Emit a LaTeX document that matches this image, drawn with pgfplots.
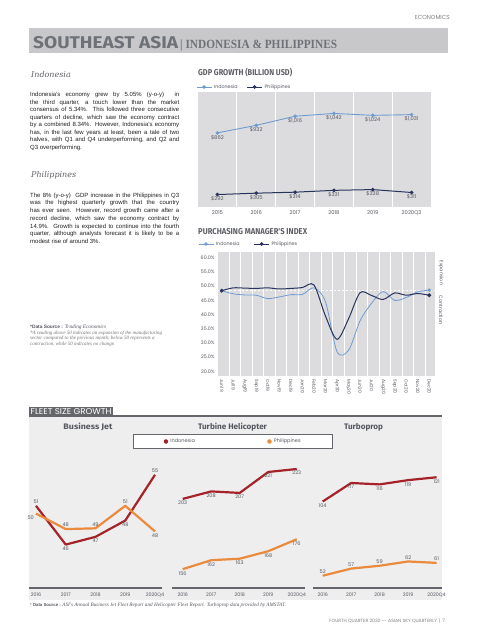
\documentclass[border=0pt]{standalone}
\usepackage{fontspec}
\setmainfont{Liberation Sans}
\newfontfamily\pop{Poppins}
\newfontfamily\dvs{DejaVu Serif}
\newfontfamily\lser{Liberation Serif}
\newfontfamily\fira{Fira Sans}
\usepackage{graphicx}
\usepackage{pgfplots}
\pgfplotsset{compat=1.18}
\pgfplotsset{/pgf/number format/assume math mode=true}

\definecolor{bannerbg}{RGB}{200,200,203}
\definecolor{titlegray}{RGB}{110,114,120}
\definecolor{headgray}{RGB}{95,97,102}
\definecolor{bodytxt}{RGB}{35,31,32}
\definecolor{chartbg}{RGB}{220,220,223}
\definecolor{indoblue}{RGB}{110,155,210}
\definecolor{phnavy}{RGB}{40,52,92}
\definecolor{lblgray}{RGB}{85,88,95}
\definecolor{fleetbg}{RGB}{238,238,239}
\definecolor{fleetbar}{RGB}{100,102,108}
\definecolor{indored}{RGB}{165,35,40}
\definecolor{phorange}{RGB}{234,138,60}

\pgfplotsset{
  fleet/.style={
    scale only axis, height=138pt, anchor=north west,
    axis x line=bottom, axis y line=none,
    axis line style={-, draw=fleetbar, line width=1.1pt},
    xtick={0,...,4}, xticklabels={2016,2017,2018,2019,2020Q4},
    major tick length=0pt, ytick=\empty,
    tick label style={font=\pop\fontsize{4.8}{5}\selectfont, text=lblgray},
    xticklabel style={yshift=-1pt},
    clip=false,
  },
  indoline/.style={indored, line width=2.2pt, line join=round, no marks},
  philline/.style={phorange, line width=2.2pt, line join=round, no marks},
  lbl/.style={draw=none, forget plot, no marks, nodes near coords, point meta=explicit symbolic,
    every node near coord/.append style={anchor=#1, font=\pop\fontsize{5}{5}\selectfont, text=lblgray, inner sep=2pt}},
  dotlegend/.style={legend image code/.code={\fill[##1] (0pt,0pt) circle (1.4pt);}},
  linelegend/.style={legend image code/.code={\draw[##1, mark=none] (0pt,0pt) -- (15pt,0pt); \fill[##1] (7.5pt,0pt) circle (1.3pt);}},
}

\begin{document}
\begin{tikzpicture}
\path[use as bounding box] (0,0) rectangle (480pt,-640pt);
\fill[white] (0,0) rectangle (480pt,-640pt);

% header
\node[anchor=east, inner sep=0pt, font=\pop\fontsize{5.8}{6}\selectfont, text=black!50] at (450pt,-17pt) {ECONOMICS};
\fill[bannerbg] (29pt,-28.3pt) rectangle (448pt,-53.3pt);
\node[anchor=base west, inner sep=0pt, text=titlegray] at (33pt,-48.3pt)
  {\resizebox{145pt}{\height}{\fira\bfseries\fontsize{17}{17}\selectfont SOUTHEAST ASIA}};
\node[anchor=base west, inner sep=0pt, text=titlegray] at (180pt,-48.3pt)
  {\resizebox{157pt}{\height}{\lser\bfseries\fontsize{12.5}{12.5}\selectfont | INDONESIA \& PHILIPPINES}};

% left column
\node[anchor=west, inner sep=0pt, text=headgray, font=\dvs\itshape\fontsize{8}{9}\selectfont] at (31pt,-75pt) {Indonesia};
\node[anchor=base west, inner sep=0pt, text=bodytxt] at (30pt,-96.5pt) {\parbox[t]{149pt}{\fontsize{6}{7.5}\selectfont
Indonesia's economy grew by 5.05\% (y-o-y)\ \ in\linebreak
the third quarter, a touch lower than the market\linebreak
consensus of 5.34\%. This followed three consecutive\linebreak
quarters of decline, which saw the economy contract\linebreak
by a combined 8.34\%. However, Indonesia's economy\linebreak
has, in the last few years at least, been a tale of two\linebreak
halves, with Q1 and Q4 underperforming, and Q2 and\linebreak
Q3 overperforming.}};

\node[anchor=west, inner sep=0pt, text=headgray, font=\dvs\itshape\fontsize{8}{9}\selectfont] at (31pt,-175pt) {Philippines};
\node[anchor=base west, inner sep=0pt, text=bodytxt] at (30pt,-197.2pt) {\parbox[t]{149pt}{\fontsize{6}{7.75}\selectfont
The 8\% (y-o-y)\ \ GDP increase in the Philippines in Q3\linebreak
was the highest quarterly growth that the country\linebreak
has ever seen. However, record growth came after a\linebreak
record decline, which saw the economy contract by\linebreak
14.9\%. Growth is expected to continue into the fourth\linebreak
quarter, although analysts forecast it is likely to be a\linebreak
modest rise of around 3\%.}};

\node[anchor=base west, inner sep=0pt, text=lblgray] at (30pt,-328pt)
  {\fontsize{4.8}{5}\selectfont\bfseries *Data Source : {\lser\mdseries\itshape\fontsize{5.3}{5}\selectfont Trading Economics}};
\node[anchor=base west, inner sep=0pt, text=black!55] at (30pt,-340pt)
  {\lser\itshape\fontsize{5}{6}\selectfont\begin{tabular}{@{}l@{}}
  *A reading above 50 indicates an expansion of the manufacturing\\[-0.6pt]
  sector compared to the previous month; below 50 represents a\\[-0.6pt]
  contraction, while 50 indicates no change.\end{tabular}};

% GDP chart
\node[anchor=west, inner sep=0pt, text=headgray] at (198pt,-73pt)
  {\resizebox{94pt}{\height}{\fira\bfseries\fontsize{8.5}{9}\selectfont GDP GROWTH (BILLION USD)}};
\begin{axis}[
  at={(198pt,-92pt)}, anchor=north west, scale only axis, width=233pt, height=115pt,
  xmin=-0.5, xmax=5.5, ymin=177, ymax=1240,
  axis background/.style={fill=chartbg},
  axis line style={draw=none},
  xtick={0,...,5}, xticklabels={2015,2016,2017,2018,2019,2020Q3},
  minor xtick={0.5,1.5,2.5,3.5,4.5},
  xminorgrids, minor grid style={white, line width=1.2pt},
  ytick=\empty, major tick length=0pt, minor tick length=0pt,
  tick label style={font=\pop\fontsize{5.2}{6}\selectfont, text=lblgray},
  xticklabel style={yshift=-0.5pt},
  linelegend,
  legend style={at={(0,1)}, anchor=west, yshift=5pt, xshift=-2pt, draw=none, fill=none,
    font=\pop\fontsize{4.8}{5}\selectfont, text=lblgray, inner sep=0pt},
  legend columns=2, legend cell align=left,
  legend style={/tikz/every even column/.append style={column sep=7pt}},
  nodes near coords={\$\pgfmathprintnumber[fixed,precision=0,1000 sep={,}]{\pgfplotspointmeta}},
  every node near coord/.append style={anchor=north, font=\pop\fontsize{5.2}{6}\selectfont, text=lblgray, inner sep=1.6pt},
]
\addplot[indoblue, line width=0.9pt, mark=*, mark size=1.3pt, point meta=y]
  coordinates {(0,862)(1,932)(2,1016)(3,1042)(4,1024)(5,1031)};
\addlegendentry{Indonesia}
\addplot[phnavy, line width=1pt, mark=*, mark size=1.3pt, point meta=y]
  coordinates {(0,292)(1,305)(2,314)(3,331)(4,338)(5,311)};
\addlegendentry{Philippines}
\end{axis}

% PMI chart
\node[anchor=west, inner sep=0pt, text=headgray] at (198pt,-232pt)
  {\resizebox{109pt}{\height}{\fira\bfseries\fontsize{8.5}{9}\selectfont PURCHASING MANAGER'S INDEX}};
\begin{axis}[
  at={(218pt,-252pt)}, anchor=north west, scale only axis, width=217pt, height=124pt,
  xmin=-0.32, xmax=18.5, ymin=18.4, ymax=62,
  axis background/.style={fill=chartbg},
  axis line style={draw=none},
  xtick={0,...,18},
  xticklabels={Jun19,Jul19,Aug19,Sep19,Oct19,Nov19,Dec19,Jan20,Feb20,Mar20,Apr20,May20,Jun20,Jul20,Aug20,Sep20,Oct20,Nov20,Dec20},
  xticklabel style={rotate=-90, anchor=west, font=\pop\fontsize{4.5}{5}\selectfont, text=lblgray},
  minor xtick={0.65,1.65,...,17.65},
  xminorgrids, minor grid style={white, line width=1pt},
  ytick={20,25,...,60},
  yticklabel={\pgfmathprintnumber[fixed,fixed zerofill,precision=1]{\tick}\%},
  yticklabel style={font=\pop\fontsize{4.8}{5}\selectfont, text=lblgray},
  major tick length=0pt, minor tick length=0pt,
  linelegend,
  legend style={at={(0,1)}, anchor=west, yshift=8pt, xshift=-20pt, draw=none, fill=none,
    font=\pop\fontsize{4.8}{5}\selectfont, text=lblgray, inner sep=0pt},
  legend columns=2, legend cell align=left,
  legend style={/tikz/every even column/.append style={column sep=12pt}},
]
\addplot[white, line width=1pt, dash pattern=on 2pt off 2pt, forget plot]
  coordinates {(-0.32,48.4)(18.5,48.4)};
\addplot[indoblue, line width=0.8pt, smooth, tension=0.5, mark=*, mark indices={1,19}, mark size=1.3pt]
  coordinates {(0,48.4)(1,47.3)(2,46.9)(3,46.8)(4,45.6)(5,46.2)(6,47.0)(7,47.1)(8,49.4)(9,44.5)(10,27.0)(11,27.4)(12,37.8)(13,44.0)(14,48.1)(15,45.0)(16,46.0)(17,48.0)(18,48.6)};
\addlegendentry{Indonesia}
\addplot[phnavy, line width=1pt, smooth, tension=0.5, mark=*, mark indices={1,19}, mark size=1.4pt]
  coordinates {(0,48.4)(1,49.4)(2,49.3)(3,49.2)(4,49.4)(5,49.0)(6,49.2)(7,49.5)(8,50.4)(9,39.5)(10,31.3)(11,38.5)(12,47.7)(13,46.7)(14,45.3)(15,47.6)(16,46.8)(17,47.4)(18,46.8)};
\addlegendentry{Philippines}
\end{axis}
\node[rotate=-90, inner sep=0pt, font=\pop\fontsize{4.8}{5}\selectfont, text=lblgray] at (441pt,-273pt) {Expansion};
\node[rotate=-90, inner sep=0pt, font=\pop\fontsize{4.8}{5}\selectfont, text=lblgray] at (441pt,-310pt) {Contraction};

% Fleet section
\fill[fleetbg] (29pt,-416pt) rectangle (442pt,-600pt);
\fill[fleetbar] (29pt,-407pt) rectangle (113pt,-416.5pt);
\node[anchor=west, inner sep=0pt, text=white] at (30.5pt,-411.8pt)
  {\resizebox{81pt}{\height}{\pop\fontsize{8.5}{9}\selectfont FLEET SIZE GROWTH}};
\draw[fleetbar, line width=1.7pt] (113pt,-415.7pt) -- (442pt,-415.7pt);
\node[inner sep=0pt, text=lblgray] at (88pt,-427pt) {\resizebox{49pt}{\height}{\fira\bfseries\fontsize{8}{9}\selectfont Business Jet}};
\node[inner sep=0pt, text=lblgray] at (232.5pt,-427pt) {\resizebox{69pt}{\height}{\fira\bfseries\fontsize{8}{9}\selectfont Turbine Helicopter}};
\node[inner sep=0pt, text=lblgray] at (363.5pt,-427pt) {\resizebox{39pt}{\height}{\fira\bfseries\fontsize{8}{9}\selectfont Turboprop}};

% Business jet
\begin{axis}[fleet, at={(29pt,-450pt)}, width=133pt, xmin=-0.235, xmax=4.235, ymin=40.4, ymax=58.2]
\addplot[indoline] coordinates {(0,51)(1,46)(2,47)(3,49.1)(4,55)};
\addplot[philline] coordinates {(0,50)(1,48)(2,48.1)(3,51)(4,47.7)};
\addplot[lbl=south] coordinates {(0,51)[51] (4,55)[55]};
\addplot[lbl=north] coordinates {(1,46)[46] (2,47)[47] (3,49.1)[48]};
\addplot[lbl=south] coordinates {(1,48)[48] (2,48.1)[49] (3,51)[51]};
\addplot[lbl=north] coordinates {(4,47.7)[48]};
\addplot[lbl=north east] coordinates {(0,50)[50]};
\end{axis}

% Turbine helicopter
\begin{axis}[fleet, at={(172pt,-450pt)}, width=133pt, xmin=-0.375, xmax=4.29, ymin=143.4, ymax=235.7,
  dotlegend,
  legend style={at={(0.459,1.062)}, anchor=center, draw=fleetbar, line width=0.8pt, fill=white,
    font=\pop\fontsize{5}{5}\selectfont, text=lblgray, inner xsep=30pt, inner ysep=2.2pt},
  legend columns=2, legend cell align=left,
  legend style={/tikz/every even column/.append style={column sep=70pt}},
]
\addplot[indoline] coordinates {(0,203)(1,208)(2,207)(3,221)(4,223)};
\addlegendentry{Indonesia}
\addplot[philline] coordinates {(0,156)(1,162)(2,163)(3,168)(4,176)};
\addlegendentry{Philippines}
\addplot[lbl=north] coordinates {(0,203)[203] (1,208)[208] (2,207)[207] (3,221)[221] (4,223)[223]};
\addplot[lbl=north] coordinates {(0,156)[156] (1,162)[162] (2,163)[163] (3,168)[168] (4,176)[176]};
\end{axis}

% Turboprop
\begin{axis}[fleet, at={(313pt,-450pt)}, width=129pt, xmin=-0.34, xmax=4.19, ymin=43.4, ymax=140.1]
\addplot[indoline] coordinates {(0,104)(1,117)(2,116)(3,119)(4,121)};
\addplot[philline] coordinates {(0,52)(1,57)(2,59)(3,62)(4,61)};
\addplot[lbl=north] coordinates {(0,104)[104] (1,117)[117] (2,116)[116] (3,119)[119] (4,121)[121]};
\addplot[lbl=south] coordinates {(0,52)[52] (1,57)[57] (2,59)[59] (3,62)[62] (4,61)[61]};
\end{axis}

\node[anchor=base west, inner sep=0pt, text=lblgray] at (30pt,-606.5pt)
  {\fontsize{4.3}{5}\selectfont * \textbf{Data Source :} {\lser\itshape\fontsize{5.2}{5}\selectfont ASI's Annual Business Jet Fleet Report and Helicopter Fleet Report. Turboprop data provided by AMSTAT.}};
\node[anchor=base east, inner sep=0pt, text=black!50] at (445pt,-622.5pt)
  {\pop\fontsize{4.6}{5}\selectfont FOURTH QUARTER 2020 -- ASIAN SKY QUARTERLY \,|\, 7};
\end{tikzpicture}
\end{document}
